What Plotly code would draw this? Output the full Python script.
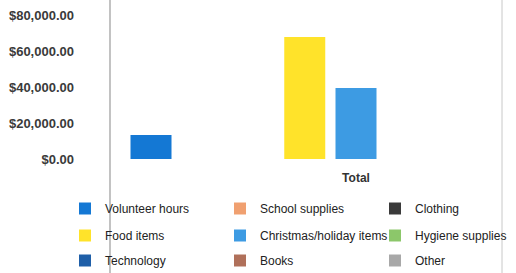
import plotly.graph_objects as go

categories = ["Total"]
series_names = ["Volunteer hours", "School supplies", "Clothing",
                "Food items", "Christmas/holiday items", "Hygiene supplies",
                "Technology", "Books", "Other"]
series_values = [13300, 0, 0, 67800, 39400, 0, 0, 0, 0]
series_colors = ["#1478D4", "#F0A070", "#3A3A3A", "#FFE32A", "#3D9BE3",
                 "#8CC76A", "#1F5FA8", "#B0705A", "#A8A8A8"]
y_ticks = [0, 20000, 40000, 60000, 80000]

W, H = 516, 273
L, R, T, B = 78, 0, 15, 114
plot_w = W - L - R
unit_px = 512.5          # pixels per category unit
center_px = 356          # pixel position of the "Total" category
x_range = [-(center_px - L) / unit_px, (W - R - center_px) / unit_px]

fig = go.Figure()
legend_ids = ["legend", "legend2", "legend3"]
for i, (name, val, col) in enumerate(zip(series_names, series_values, series_colors)):
    fig.add_trace(go.Bar(
        x=categories, y=[val], name=name, marker_color=col,
        marker_line_width=0, legend=legend_ids[i // 3],
    ))

legend_font = dict(family="Liberation Sans, Arial, sans-serif", size=12, color="#222222")
row_tops_px = [194, 221, 246]
legend_left_px = 65
plot_h = H - T - B
legends = {}
for lid, top in zip(legend_ids, row_tops_px):
    legends[lid] = dict(
        orientation="h", x=(legend_left_px - L) / plot_w, xanchor="left",
        y=(H - B - top) / plot_h, yanchor="top",
        entrywidth=110, entrywidthmode="pixels", font=legend_font,
        bgcolor="rgba(0,0,0,0)", itemwidth=30, traceorder="normal",
    )

fig.update_layout(
    width=W, height=H,
    margin=dict(l=L, r=R, t=T, b=B, autoexpand=False),
    paper_bgcolor="white", plot_bgcolor="white",
    barmode="group", bargap=0.1, bargroupgap=0.2,
    showlegend=True,
    xaxis=dict(type="category", range=x_range, showgrid=False, zeroline=False,
               showline=False, ticks="", ticklabelstandoff=10,
               tickfont=dict(family="Liberation Sans, Arial, sans-serif", size=12,
                             color="#333333", weight="bold")),
    yaxis=dict(range=[0, 80000], tickvals=y_ticks, tickformat="$,.2f",
               showgrid=False, zeroline=False, showline=False, ticks="",
               ticklabelstandoff=3,
               tickfont=dict(family="Liberation Sans, Arial, sans-serif", size=13,
                             color="#3a3a3a", weight="bold")),
    shapes=[
        dict(type="line", xref="paper", yref="paper",
             x0=(110 - L) / plot_w, x1=(110 - L) / plot_w, y0=-B / plot_h, y1=(plot_h + T) / plot_h,
             line=dict(color="#9a9a9a", width=1.2)),
        dict(type="line", xref="paper", yref="paper",
             x0=(502 - L) / plot_w, x1=(502 - L) / plot_w, y0=-B / plot_h, y1=(plot_h + T) / plot_h,
             line=dict(color="#c8c8c8", width=1)),
    ],
    **legends,
)

fig.write_html("out.html", config={"displayModeBar": False},
               post_script="document.body.style.margin='0px';")
